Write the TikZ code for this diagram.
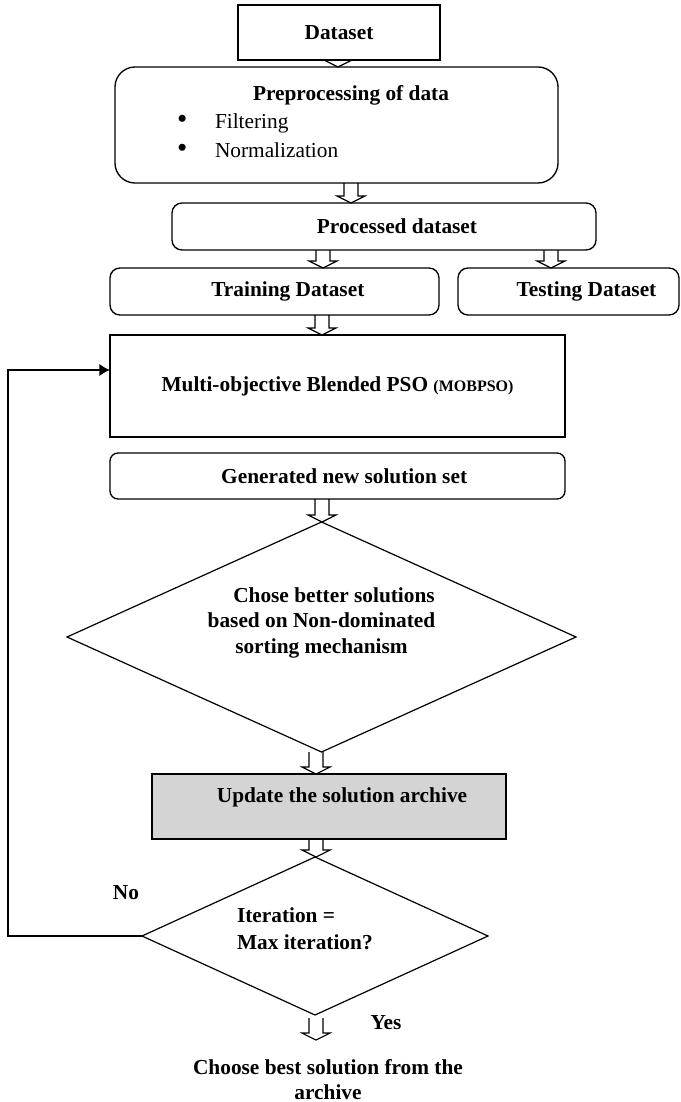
\documentclass[tikz,border=0pt]{standalone}
\usepackage{fontspec}
\setmainfont{Liberation Serif}
\usetikzlibrary{calc,shapes.geometric,arrows.meta}
\definecolor{updgray}{RGB}{212,212,212}
\begin{document}
\begin{tikzpicture}[x=0.75pt,y=-0.75pt,
  every node/.style={outer sep=0pt, inner sep=0pt},
  box/.style={draw, line width=1pt, rectangle, font=\fontsize{16}{19}\selectfont\bfseries},
  rbox/.style={box, rounded corners=7.5pt},
  dia/.style={draw, line width=0.9pt, diamond, aspect=2.2},
  txt/.style={font=\fontsize{16}{19}\selectfont\bfseries, align=center},
  hollow/.style={line width=0.85pt, to path={let \p1=(\tikztostart), \p2=(\tikztotarget) in
    (\x1-5.25pt,\y1) -- (\x1-5.25pt,\y2+5.25pt) -- (\x1-10.5pt,\y2+5.25pt) -- (\x1,\y2)
    -- (\x1+10.5pt,\y2+5.25pt) -- (\x1+5.25pt,\y2+5.25pt) -- (\x1+5.25pt,\y1)}},
  fb/.style={line width=1.9pt, -{Latex[length=8pt,width=9.5pt]}}
]
\useasboundingbox (0,0) rectangle (681,1102);

% boxes
\node[box, minimum width=151.5pt, minimum height=41.25pt] (dataset) at (339,32.5) {Dataset};
\node[box, rounded corners=15pt, minimum width=332.25pt, minimum height=87pt] (pre) at (336.5,125) {};
\node[txt] (pretitle) at (351,95) {Preprocessing of data};
\node[anchor=west, align=left, font=\fontsize{16}{21.75}\selectfont] (preitems) at (177,135.5)
  {\makebox[28.5pt][l]{\fontsize{22}{22}\selectfont\textbullet}Filtering\\\makebox[28.5pt][l]{\fontsize{22}{22}\selectfont\textbullet}Normalization};
\node[rbox, minimum width=318pt, minimum height=35.25pt] (proc) at (384,226.5) {\hspace*{19.5pt}Processed dataset};
\node[rbox, minimum width=246.75pt, minimum height=35.25pt] (train) at (274.5,291.5) {\hspace*{20pt}Training Dataset};
\node[rbox, minimum width=165.75pt, minimum height=35.25pt] (test) at (568.5,291.5) {\hspace*{27pt}Testing Dataset};
\node[box, minimum width=341.25pt, minimum height=76.5pt] (mob) at (337.5,386)
  {Multi-objective Blended PSO {\fontsize{12}{14}\selectfont(MOBPSO)}};
\node[box, rounded corners=6pt, minimum width=341.25pt, minimum height=34.5pt] (gen) at (337.5,476) {\hspace*{10pt}Generated new solution set};
\node[dia, minimum width=381.75pt, minimum height=172.5pt] (d1) at (321.5,637) {};
\node[txt, font=\fontsize{16}{19.1}\selectfont\bfseries] (d1text) at (321.5,622.5)
  {\hspace*{18.75pt}Chose better solutions\\based on Non-dominated\\sorting mechanism};
\node[box, fill=updgray, minimum width=265.5pt, minimum height=48.75pt] (upd) at (329,806.5) {};
\node[txt] (updtext) at (342,797) {Update the solution archive};
\node[dia, minimum width=259.5pt, minimum height=118.5pt] (d2) at (315,936) {};
\node[txt, anchor=west, align=left, font=\fontsize{16}{20.25}\selectfont\bfseries] (d2text) at (237,928.5)
  {Iteration =\\Max iteration?};
\node[txt] (no) at (126,893) {No};
\node[txt] (yes) at (386,1023) {Yes};
\node[txt, font=\fontsize{16}{18.75}\selectfont\bfseries] (choose) at (328,1079.5)
  {Choose best solution from the\\archive};

% arrow positions
\coordinate (ax1) at (338,0);
\coordinate (ax2) at (351,0);
\coordinate (ax3) at (323,0);
\coordinate (ax4) at (551,0);
\coordinate (ax5) at (322,0);
\coordinate (ax7) at (316,0);
\coordinate (yesend) at (316,1040);
\coordinate (fbc) at (8,370);

% hollow block arrows
\draw[hollow] (dataset.south -| ax1) to (pre.north);
\draw[hollow] (pre.south -| ax2) to (proc.north);
\draw[hollow] (proc.south -| ax3) to (train.north);
\draw[hollow] (proc.south -| ax4) to (test.north);
\draw[hollow] (train.south -| ax5) to (mob.north);
\draw[hollow] (gen.south -| ax5) to (d1.north);
\draw[hollow] (d1.south -| ax7) to (upd.north);
\draw[hollow] (upd.south -| ax7) to (d2.north);
\draw[hollow] ($(d2.south)+(1,3)$) to (yesend);

% feedback loop
\draw[fb] (d2.west) -| (fbc) -- (fbc -| mob.west);
\end{tikzpicture}
\end{document}
